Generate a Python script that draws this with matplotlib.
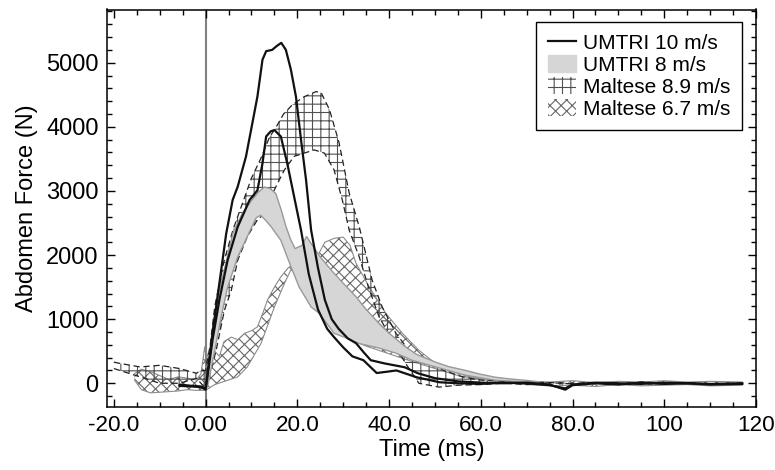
import numpy as np
import matplotlib
matplotlib.use("Agg")
import matplotlib.pyplot as plt
from matplotlib.lines import Line2D
from matplotlib.patches import Patch

plt.rcParams['font.family'] = ['Liberation Sans', 'DejaVu Sans']
plt.rcParams['hatch.linewidth'] = 0.8

# UMTRI 10 m/s, two traces
u10a_t = [-5.7, -3, -1, 0, 0.4, 1.5, 3.0, 4.5, 5.9, 7.0, 8.8, 10.2, 11.3, 12.4, 13.2, 14.5, 15.5,
          16.5, 17.5, 18.6, 19.7, 20.8, 21.9, 23.0, 24.5, 26, 27.5, 29, 31, 32.8, 34.5, 36, 39, 43.4,
          46.3, 50, 55, 60, 65, 70, 75, 78.4, 80, 85, 90, 95, 100, 105, 110, 117]
u10a_f = [-40, -50, -60, -100, 150, 780, 1560, 2340, 2860, 3067, 3536, 4060, 4474, 5047, 5180, 5200,
          5260, 5310, 5200, 4890, 4470, 3800, 3170, 2390, 1800, 1300, 1000, 850, 700, 625, 480, 360,
          310, 250, 156, 80, 30, 10, 0, 10, -20, -100, -30, 0, -20, 10, -10, 0, -20, -10]
u10b_t = [-5.7, -3, -1, 0, 0.4, 1.5, 3.0, 4.8, 7.0, 9.6, 11.3, 12.4, 13.2, 14.2, 15.0, 16.4, 17.8,
          19.3, 20.8, 22.5, 24.5, 26.5, 28, 30, 32, 34.4, 37.3, 39.5, 41.6, 46, 51, 55, 60, 65, 70,
          75, 78.4, 80, 85, 90, 95, 100, 105, 110, 117]
u10b_f = [-20, -40, -50, -80, 100, 670, 1300, 1920, 2440, 2860, 3010, 3430, 3850, 3930, 3950, 3850,
          3430, 2910, 2390, 1700, 1150, 850, 720, 560, 420, 360, 160, 180, 200, 94, 16, 0, -10, 10, 0,
          -30, -80, -20, 10, 0, -10, 10, 0, -10, 0]

# UMTRI 8 m/s corridor
u8_hi_t = [-1, 0, 1, 2, 3, 4.5, 6, 8, 10, 11.5, 12.8, 14, 15.3, 16.5, 17.5, 18.5, 19.5, 21, 22, 23,
           25, 27.7, 30, 32.8, 35, 37.8, 40, 43.6, 46, 50.1, 53, 56.7, 60, 63.2, 66, 69.7, 73]
u8_hi_f = [-80, -60, 500, 1000, 1450, 1900, 2350, 2650, 2850, 2980, 3060, 3040, 2960, 2700, 2450,
           2250, 2100, 2150, 2290, 2180, 1970, 1740, 1560, 1350, 1150, 935, 780, 567, 450, 330, 260,
           200, 140, 94, 70, 47, 20]
u8_lo_t = [-1, 0.4, 2, 3.4, 4.8, 7, 9.1, 11, 12, 13, 14.3, 16.4, 18.6, 20.4, 23, 24.8, 28, 30.2,
           33.5, 37.8, 41.5, 45, 50.1, 56.7, 63.2, 69.7, 73]
u8_lo_f = [-80, -60, 520, 1040, 1500, 1970, 2290, 2580, 2620, 2550, 2440, 2230, 1820, 1500, 1190,
           1090, 780, 720, 620, 550, 470, 360, 255, 125, 47, 20, 20]

# Maltese 8.9 m/s corridor
m89_hi_t = [-20, -18.7, -14.3, -10, -5.7, -2, -1, 0, 1, 2, 4, 6, 8, 10, 12, 14, 15, 17, 19, 21.5,
            24.1, 25.2, 27, 29.1, 31.3, 33.5, 36.3, 38.5, 41.5, 44.3, 48, 52, 56, 60, 65, 70, 75,
            80, 85, 90, 95, 100, 105, 110, 117]
m89_hi_f = [330, 310, 255, 280, 230, 156, 200, 200, 600, 1200, 1900, 2400, 2800, 3200, 3500, 3850,
            3950, 4200, 4350, 4470, 4550, 4530, 4270, 3750, 2970, 2440, 1610, 1190, 780, 515, 360,
            200, 100, 50, 30, 20, 10, 0, 10, -10, 20, 0, 10, -10, 0]
m89_lo_t = [-20, -18.7, -14.3, -10, -5.7, -2, 0, 1, 2.3, 4.1, 5.6, 7, 9.1, 11.3, 12.1, 13.5, 15.7,
            17.2, 19.3, 21.5, 23.7, 25.9, 28, 29.8, 31.3, 33.5, 35.5, 37.8, 41.5, 43.6, 46.5, 50.9,
            55, 60, 65, 70, 75, 80, 85, 90, 95, 100, 105, 110, 117]
m89_lo_f = [230, 200, 100, 0, 0, 78, -80, 150, 515, 1140, 1450, 1920, 2290, 2550, 2600, 2800, 3120,
            3330, 3540, 3590, 3640, 3590, 3330, 2860, 2390, 1970, 1500, 1040, 567, 310, 0, -60,
            -30, -20, 0, -20, 10, -10, 0, -20, 0, -10, 10, -20, 0]

# Maltese 6.7 m/s corridor
m67_hi_t = [-15.5, -14, -12, -10, -8, -6, -4, -2, -1, -0.2, 1, 2, 3, 4, 5.6, 7, 8.5, 10, 11.3, 12.5,
            13.5, 15, 16.4, 18, 20, 21.5, 23, 24.5, 26, 28, 30, 31.5, 32.8, 35.7, 39.3, 42.9, 46.5,
            50.1, 54, 58, 62, 66, 70, 75, 80, 85, 90, 95, 100, 105, 110, 117]
m67_hi_f = [150, 220, 180, 120, 60, 100, 80, 50, 150, 570, 300, 500, 420, 650, 720, 680, 780, 820,
            880, 1100, 1300, 1500, 1660, 1800, 1900, 1850, 2050, 2000, 2200, 2260, 2280, 2150, 1870,
            1500, 1090, 780, 515, 310, 180, 100, 60, 30, 30, 20, 40, 10, 30, 20, 40, 20, 30, 20]
m67_lo_t = [-15.5, -14, -12, -10, -8, -6, -4, -2, 0, 2, 4.8, 7, 9.1, 12.1, 15, 17.2, 18.6, 20, 22,
            25, 28, 31, 35, 40, 45, 50, 55, 60, 66, 70, 75, 80, 85, 90, 95, 100, 105, 110, 117]
m67_lo_f = [50, -100, -150, -140, -130, -120, -100, -110, -110, -20, 47, 100, 255, 625, 1190, 1560,
            1770, 1700, 1500, 1150, 850, 700, 580, 460, 340, 230, 120, 60, 10, -20, -40, -30, -50,
            -20, -40, -30, -20, -40, -30]

xticks = [-20, 0, 20, 40, 60, 80, 100, 120]
xticklabels = ['-20.0', '0.00', '20.0', '40.0', '60.0', '80.0', '100', '120']
yticks = [0, 1000, 2000, 3000, 4000, 5000]
labels = ['UMTRI 10 m/s', 'UMTRI 8 m/s', 'Maltese 8.9 m/s', 'Maltese 6.7 m/s']


def band(t_hi, f_hi, t_lo, f_lo):
    return (np.concatenate([t_hi, t_lo[::-1]]), np.concatenate([f_hi, f_lo[::-1]]))


fig = plt.figure(figsize=(7.75, 4.7), dpi=100)
ax = fig.add_axes([107 / 775, 63 / 470, 649 / 775, 397.5 / 470])

ax.axvline(0, color='#808080', lw=1.5, zorder=0.5)

# Maltese 6.7 (x hatch, gray ragged edges)
xs, ys = band(m67_hi_t, m67_hi_f, m67_lo_t, m67_lo_f)
ax.fill(xs, ys, facecolor='none', edgecolor='#666666', hatch='xxx', lw=0, zorder=1)
ax.plot(m67_hi_t, m67_hi_f, color='#8c8c8c', lw=0.8, zorder=1.1)
ax.plot(m67_lo_t, m67_lo_f, color='#8c8c8c', lw=0.8, zorder=1.1)

# Maltese 8.9 (+ hatch, dashed edges)
xs, ys = band(m89_hi_t, m89_hi_f, m89_lo_t, m89_lo_f)
ax.fill(xs, ys, facecolor='none', edgecolor='#505050', hatch='++', lw=0, zorder=2)
ax.plot(m89_hi_t, m89_hi_f, color='#222222', lw=0.9, ls=(0, (5, 3)), zorder=2.1)
ax.plot(m89_lo_t, m89_lo_f, color='#222222', lw=0.9, ls=(0, (5, 3)), zorder=2.1)

# UMTRI 8 (gray band)
xs, ys = band(u8_hi_t, u8_hi_f, u8_lo_t, u8_lo_f)
ax.fill(xs, ys, facecolor='#d6d6d6', edgecolor='#999999', lw=1.0, zorder=3)

# UMTRI 10 (black lines)
ax.plot(u10a_t, u10a_f, color='#111111', lw=1.6, zorder=4)
ax.plot(u10b_t, u10b_f, color='#111111', lw=1.6, zorder=4)

ax.set_xlim(-21.5, 120)
ax.set_ylim(-370, 5830)
ax.set_xticks(xticks)
ax.set_xticklabels(xticklabels)
ax.set_yticks(yticks)
ax.set_xticks(np.arange(-20, 121, 5), minor=True)
ax.set_yticks(np.arange(-200, 5801, 200), minor=True)
ax.tick_params(which='both', direction='in', top=True, right=True, width=1)
ax.tick_params(axis='y', labelsize=17)
ax.tick_params(axis='x', labelsize=16.2)
ax.tick_params(which='major', length=6, pad=6)
ax.tick_params(which='minor', length=3.5)
for s in ax.spines.values():
    s.set_linewidth(1.1)

ax.set_xlabel('Time (ms)', fontsize=17, labelpad=2)
ax.set_ylabel('Abdomen Force (N)', fontsize=17, labelpad=6)

handles = [Line2D([], [], color='#111111', lw=1.6),
           Patch(facecolor='#d6d6d6', edgecolor='#d6d6d6'),
           Patch(facecolor='white', edgecolor='#505050', hatch='++', lw=0),
           Patch(facecolor='white', edgecolor='#666666', hatch='xxx', lw=0)]
leg = ax.legend(handles, labels, loc='upper right', bbox_to_anchor=(0.9785, 0.969),
                borderaxespad=0, fontsize=15, frameon=True, fancybox=False, framealpha=1,
                edgecolor='black', labelspacing=0.1, handlelength=1.35, handleheight=0.9,
                handletextpad=0.35, borderpad=0.55)
leg.get_frame().set_linewidth(1.0)

fig.savefig('out.png', dpi=100)
